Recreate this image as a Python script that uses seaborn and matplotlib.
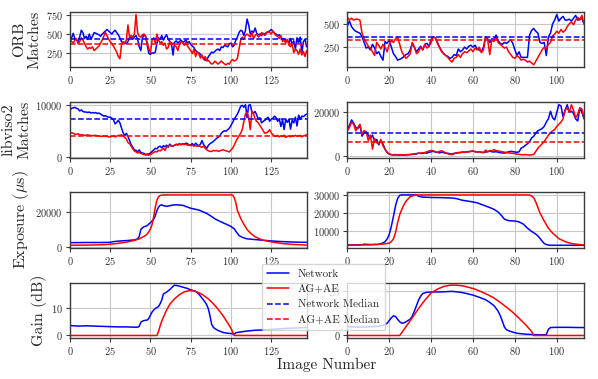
import numpy as np
import pandas as pd
import matplotlib
matplotlib.use("Agg")
import matplotlib.pyplot as plt
import seaborn as sns
from matplotlib.ticker import MaxNLocator
from matplotlib.lines import Line2D

# ---------------- data ----------------
series_names = ["Network", "AG+AE", "Network Median", "AG+AE Median"]
row_labels = ["ORB\nMatches", "libviso2\nMatches", r"Exposure ($\mu$s)", "Gain (dB)"]
x_label = "Image Number"
n_left = 148
n_right = 114

orb_left_net = [
    420, 450, 510, 440, 420, 400, 460, 550, 520, 440, 470, 430, 500, 430, 470,
    520, 510, 500, 490, 470, 500, 520, 540, 560, 540, 520, 500, 530, 550, 520,
    490, 450, 400, 380, 390, 370, 400, 450, 470, 430, 460, 480, 430, 330, 280,
    450, 490, 470, 350, 240, 230, 250, 245, 260, 380, 450, 430, 480, 420, 460,
    490, 430, 400, 380, 220, 390, 410, 380, 400, 420, 390, 400, 420, 380, 400,
    360, 340, 320, 280, 260, 250, 230, 200, 180, 150, 160, 200, 230, 260, 250,
    270, 290, 300, 280, 330, 320, 350, 340, 330, 370, 380, 330, 350, 420, 460,
    520, 550, 540, 480, 550, 700, 620, 500, 540, 520, 580, 510, 490, 500, 480,
    510, 500, 520, 530, 540, 560, 540, 510, 500, 480, 490, 460, 430, 440, 400,
    420, 380, 440, 360, 410, 300, 450, 380, 460, 250, 400, 430, 330]
orb_left_ag = [
    430, 400, 380, 420, 440, 370, 400, 450, 420, 380, 330, 300, 320, 310, 330,
    280, 300, 320, 340, 380, 420, 470, 520, 480, 430, 400, 370, 340, 300, 260,
    200, 170, 360, 400, 370, 420, 620, 450, 480, 460, 500, 760, 520, 470, 460,
    490, 500, 460, 380, 300, 250, 420, 450, 380, 500, 420, 380, 400, 350, 380,
    300, 320, 400, 360, 380, 350, 330, 280, 360, 400, 380, 350, 390, 340, 310,
    280, 240, 300, 200, 260, 240, 180, 220, 160, 200, 140, 150, 120, 100, 110,
    140, 120, 100, 120, 140, 120, 100, 90, 110, 100, 140, 160, 140, 150, 180,
    300, 420, 460, 430, 480, 500, 480, 460, 520, 440, 480, 500, 460, 480, 520,
    500, 480, 510, 530, 520, 500, 540, 510, 480, 470, 440, 480, 400, 420, 380,
    430, 350, 330, 370, 250, 300, 280, 230, 300, 220, 270, 200, 280]
orb_right_net = [
    480, 530, 470, 440, 420, 410, 400, 360, 300, 240, 250, 220, 280, 240, 180,
    200, 150, 110, 310, 290, 330, 250, 180, 150, 110, 120, 130, 150, 170, 180,
    220, 290, 250, 200, 230, 260, 220, 280, 290, 260, 330, 360, 350, 300, 250,
    210, 180, 160, 150, 130, 140, 170, 160, 230, 200, 220, 250, 230, 260, 270,
    250, 270, 230, 220, 200, 250, 360, 340, 300, 340, 330, 380, 320, 290, 280,
    300, 290, 310, 330, 290, 220, 160, 200, 140, 140, 140, 140, 380, 430, 450,
    420, 400, 300, 290, 300, 160, 360, 400, 500, 540, 600, 530, 560, 580, 540,
    540, 550, 530, 560, 590, 540, 550, 560, 500]
orb_right_ag = [
    570, 540, 560, 540, 550, 550, 540, 400, 340, 300, 260, 240, 200, 160, 300,
    270, 230, 280, 250, 200, 280, 320, 300, 340, 360, 280, 200, 160, 130, 150,
    180, 300, 250, 180, 200, 250, 220, 280, 240, 260, 300, 360, 350, 290, 250,
    200, 180, 160, 140, 110, 90, 130, 140, 170, 140, 180, 200, 190, 210, 230,
    200, 240, 220, 250, 190, 220, 360, 330, 170, 330, 310, 360, 300, 280, 260,
    240, 250, 200, 170, 140, 130, 160, 140, 110, 120, 110, 90, 100, 80, 60,
    100, 140, 180, 220, 250, 230, 280, 300, 370, 390, 420, 400, 440, 410, 430,
    470, 500, 520, 490, 540, 570, 540, 590, 500]
orb_medians_left = [433, 366]
orb_medians_right = [355, 323]

lib_left_net = [
    9000, 9300, 9400, 9500, 9300, 9200, 8800, 9000, 8700, 8600,
    8600, 8500, 8600, 8400, 8500, 8400, 8500, 8300, 8400, 8200,
    8000, 7800, 7900, 7700, 7600, 7600, 7400, 7100, 6300, 6600,
    7000, 6500, 5500, 4600, 4000, 4500, 3900, 3100, 2300, 1800,
    1300, 1200, 900, 1300, 800, 700, 600, 400, 500, 500,
    700, 1000, 1300, 1600, 1500, 1900, 2000, 1700, 2100, 1900,
    2200, 1800, 2400, 2100, 2000, 2200, 2400, 2300, 2500, 2300,
    2500, 2400, 2600, 2500, 2200, 2300, 2500, 2100, 2600, 2300,
    2000, 2400, 3100, 2300, 1900, 1600, 2200, 2500, 2700, 2900,
    3200, 3500, 3700, 4000, 4500, 4800, 5000, 4900, 5200, 5500,
    6000, 6600, 7200, 7700, 8200, 8900, 9700, 9900, 9500, 10000,
    7500, 9900, 10000, 8500, 8400, 8700, 8000, 7200, 7500, 6500,
    6800, 7000, 7300, 7600, 6800, 7200, 7400, 7800, 7500, 6800,
    7300, 5800, 7100, 5200, 7200, 6600, 7200, 5300, 7000, 6500,
    7600, 5900, 8000, 7200, 7800, 7700, 8000, 8200]
lib_left_ag = [
    4500, 4600, 4500, 4300, 4300, 4400, 4200, 4200, 4200, 4100,
    4100, 4200, 4100, 4100, 4000, 4100, 4100, 4000, 4000, 3900,
    3900, 4000, 3900, 3900, 3800, 3800, 3900, 4000, 3800, 3900,
    4100, 4100, 4200, 4000, 3700, 3400, 2700, 2500, 2000, 1500,
    1100, 900, 700, 800, 600, 500, 400, 300, 300, 300,
    400, 600, 800, 1000, 900, 1200, 1100, 1300, 1600, 1200,
    1800, 2100, 2200, 2000, 2100, 2200, 2300, 2200, 2400, 2300,
    2400, 2300, 2400, 2200, 2300, 2100, 2200, 2000, 2100, 2000,
    2200, 1900, 1800, 2000, 1600, 1300, 1100, 1000, 1000, 1200,
    1100, 1200, 1000, 1100, 1200, 1300, 1200, 1100, 1000, 900,
    1300, 1600, 2200, 2900, 3500, 4000, 4500, 5200, 6800, 8200,
    8500, 7500, 5200, 8800, 8300, 7200, 6800, 6500, 6000, 5500,
    5000, 4500, 4600, 4800, 5200, 4600, 4200, 4000, 3900, 4100,
    3800, 4000, 3900, 4100, 3700, 3900, 4000, 3800, 4000, 3900,
    4100, 3900, 4000, 4100, 3800, 4000, 4100, 4200]
lib_right_net = [
    12000, 14000, 16500, 15000, 13000, 12500, 14000, 9000, 10500, 11000,
    9500, 8000, 9500, 6500, 7500, 5000, 7000, 5500, 3000, 1500,
    700, 500, 400, 500, 400, 300, 400, 300, 400, 500,
    500, 600, 700, 800, 1200, 1000, 1100, 1300, 1200, 1600,
    1800, 2000, 1700, 1500, 1300, 1600, 1400, 1200, 1100, 900,
    800, 1100, 1200, 1300, 1500, 1700, 1600, 1800, 1900, 2000,
    2100, 1900, 1700, 1800, 1600, 1500, 1700, 1900, 2100, 1800,
    1700, 1900, 1600, 1400, 1300, 1200, 1500, 1800, 2000, 1900,
    1700, 1600, 1800, 3500, 4000, 4800, 5500, 6500, 8200, 9000,
    10500, 11500, 12000, 12500, 13500, 15500, 17000, 20500, 17500, 16500,
    20000, 23500, 23000, 18000, 21000, 23500, 20000, 20500, 19500, 17000,
    16000, 22000, 20000, 17000]
lib_right_ag = [
    11500, 13000, 15500, 14500, 11500, 13000, 14500, 10000, 11500, 11000,
    7000, 9500, 3000, 8000, 6000, 5500, 7500, 4500, 3000, 1500,
    800, 500, 300, 400, 300, 300, 400, 300, 500, 400,
    600, 700, 900, 1000, 1100, 1200, 1300, 1500, 1800, 2200,
    2400, 2300, 1900, 1600, 2000, 2300, 1800, 1200, 900, 600,
    500, 900, 1300, 1500, 1400, 1600, 1500, 1800, 1700, 2000,
    2200, 1800, 1700, 1900, 1500, 1400, 2600, 1700, 2400, 2200,
    2800, 2300, 2200, 2000, 1800, 1600, 1400, 1300, 1200, 1100,
    900, 700, 600, 500, 400, 500, 400, 300, 400, 600,
    2000, 3500, 4500, 5500, 6500, 8000, 9500, 10500, 11500, 12000,
    13500, 14500, 15500, 17000, 21000, 22000, 20000, 23500, 21000, 17500,
    19000, 22000, 21500, 17500]
lib_medians_left = [7340, 4060]
lib_medians_right = [10600, 6310]

exp_left_net_x = [0, 10, 20, 25, 27, 30, 35, 40, 42, 43, 44, 45, 46, 48, 49, 50, 51, 52, 53, 54,
                  55, 56, 57, 58, 60, 62, 64, 66, 70, 75, 80, 85, 88, 90, 93, 96, 98, 100, 101,
                  102, 103, 104, 105, 107, 110, 115, 120, 125, 130, 135, 140, 147]
exp_left_net_y = [2400, 2500, 2500, 2600, 3000, 3300, 3600, 4000, 4600, 6000, 10000, 11000, 11600,
                  12300, 13200, 14000, 15000, 16000, 18000, 21000, 23000, 24000, 24300, 23800,
                  23400, 23800, 24200, 24300, 24000, 22300, 21300, 19300, 17500, 16200, 14800,
                  13500, 12700, 11800, 11000, 10500, 9000, 7800, 6500, 5500, 4600, 4200, 3800,
                  3400, 3100, 2900, 2700, 2600]
exp_left_ag_x = [0, 10, 20, 25, 30, 35, 40, 43, 45, 47, 48, 49, 50, 51, 52, 53, 54, 55, 56, 58,
                 101, 102, 103, 104, 106, 108, 110, 112, 115, 120, 126, 132, 138, 147]
exp_left_ag_y = [900, 1000, 1200, 1500, 2000, 2700, 3700, 4600, 5600, 6600, 7500, 8800, 10400,
                 13000, 17500, 23000, 27000, 29000, 29700, 30000, 30000, 28500, 25500, 21000,
                 16500, 13000, 10000, 8000, 5800, 3800, 2700, 1900, 1400, 1000]
exp_right_net_x = [0, 7, 8, 9, 12, 15, 17, 18, 19, 20, 21, 22, 23, 24, 25, 26, 33, 34, 36, 40, 45,
                   50, 52, 55, 58, 60, 62, 65, 68, 70, 72, 74, 75, 77, 80, 82, 84, 86, 88, 90, 91,
                   92, 93, 94, 95, 96, 97, 100, 105, 113]
exp_right_net_y = [2200, 2200, 2600, 2500, 2400, 2500, 3300, 4000, 5500, 8000, 12500, 18000, 24000,
                   28000, 29800, 30000, 30000, 29300, 28800, 28600, 28500, 28300, 28000, 27000,
                   26500, 26100, 25600, 24300, 23000, 22000, 20500, 18000, 16500, 15700, 15500,
                   15000, 13800, 11500, 9700, 8200, 7200, 5800, 4300, 3000, 2400, 2100, 2000, 2000,
                   2000, 2000]
exp_right_ag_x = [0, 10, 15, 18, 20, 21, 22, 23, 24, 25, 26, 27, 28, 30, 32, 34, 87, 88, 89, 90,
                  91, 92, 94, 96, 98, 101, 104, 107, 110, 113]
exp_right_ag_y = [2000, 2200, 2500, 2800, 3200, 4000, 5500, 9000, 14500, 19000, 22000, 24500,
                  26500, 29000, 29800, 30000, 30000, 29400, 28500, 26000, 23000, 20000, 15500,
                  11500, 8800, 5700, 4000, 3000, 2500, 2200]

gain_left_net_x = [0, 5, 10, 15, 20, 25, 30, 35, 40, 42, 43, 44, 45, 46, 47, 48, 49, 50, 51, 52,
                   53, 54, 55, 56, 57, 58, 60, 62, 64, 65, 67, 70, 73, 75, 78, 80, 82, 84, 85, 86,
                   87, 88, 89, 90, 92, 95, 98, 100, 102, 103, 105, 110, 115, 120, 125, 130, 135,
                   140, 147]
gain_left_net_y = [3.6, 3.4, 3.5, 3.4, 3.3, 3.2, 3.1, 3.1, 3.0, 3.0, 3.3, 4.8, 5.2, 5.4, 5.5, 5.6,
                   6.2, 7.4, 8.5, 9.2, 9.8, 10.1, 10.5, 11.5, 12.8, 15.0, 15.7, 16.6, 17.8, 18.2,
                   18.0, 17.5, 17.0, 16.5, 16.0, 15.0, 13.5, 12.0, 11.0, 9.5, 7.0, 4.0, 3.0, 2.5,
                   1.8, 1.1, 0.8, 0.7, 0.5, 1.0, 1.2, 1.6, 1.9, 2.0, 2.2, 2.4, 2.6, 2.7, 2.9]
gain_left_ag_x = [0, 54, 55, 56, 57, 58, 60, 62, 65, 68, 71, 74, 77, 80, 83, 86, 89, 92, 95, 98,
                  100, 102, 147]
gain_left_ag_y = [0, 0, 1.5, 3.5, 5.2, 6.6, 9.2, 11.3, 13.3, 14.8, 15.8, 16.2, 16.1, 15.5, 14.5,
                  13.2, 11.5, 9.5, 7.2, 4.5, 2.6, 0, 0]
gain_right_net_x = [0, 5, 10, 15, 17, 19, 20, 21, 22, 23, 24, 25, 26, 27, 28, 29, 30, 31, 32, 33,
                    34, 35, 36, 38, 42, 46, 50, 54, 57, 60, 63, 66, 68, 70, 71, 72, 73, 74, 75, 76,
                    78, 81, 85, 89, 94, 95, 96, 97, 100, 105, 110, 113]
gain_right_net_y = [4.0, 3.8, 3.9, 4.2, 4.6, 5.5, 6.8, 8.0, 8.9, 8.6, 7.3, 6.2, 5.6, 5.7, 6.2, 6.8,
                    7.4, 8.8, 11.0, 13.5, 16.0, 17.8, 19.0, 19.6, 19.7, 19.8, 20.0, 19.6, 19.0,
                    18.3, 17.3, 16.2, 15.0, 13.5, 12.3, 11.0, 9.0, 6.5, 3.8, 2.6, 1.8, 1.0, 0.6,
                    0.4, 0.3, 0.4, 2.8, 3.6, 3.7, 3.7, 3.6, 3.6]
gain_right_ag_x = [0, 25, 28, 31, 34, 37, 40, 43, 46, 49, 52, 55, 58, 61, 64, 67, 70, 73, 76, 79,
                   82, 85, 88, 89, 113]
gain_right_ag_y = [0, 0, 4.0, 8.0, 12.2, 16.0, 19.3, 21.0, 22.2, 22.8, 22.8, 22.5, 21.8, 21.0,
                   19.8, 18.5, 17.0, 15.0, 12.8, 10.5, 7.8, 5.0, 1.8, 0, 0]

# ---------------- style ----------------
sns.set_theme(style="whitegrid")
plt.rcParams.update({
    "font.family": "serif",
    "font.serif": ["cmr10"],
    "mathtext.fontset": "cm",
    "axes.formatter.use_mathtext": True,
    "axes.unicode_minus": False,
    "axes.edgecolor": "#3a3a3a",
    "axes.linewidth": 1.0,
    "grid.color": "#c8c8c8",
    "grid.linewidth": 0.8,
    "xtick.bottom": True,
    "ytick.left": True,
    "xtick.major.size": 3,
    "ytick.major.size": 3,
    "xtick.major.width": 0.8,
    "ytick.major.width": 0.8,
    "xtick.color": "#3a3a3a",
    "ytick.color": "#3a3a3a",
    "xtick.labelcolor": "#333333",
    "ytick.labelcolor": "#333333",
    "xtick.major.pad": 2,
    "ytick.major.pad": 2,
})

BLUE = "#0000ff"
RED = "#ff0000"
LW = 1.1

fig, axes = plt.subplots(4, 2, figsize=(5.98, 3.79), dpi=100)
fig.subplots_adjust(left=70 / 598, right=584 / 598, top=1 - 12 / 379,
                    bottom=1 - 338 / 379, wspace=0.172, hspace=0.63)

frames_left = np.arange(n_left)
frames_right = np.arange(n_right)

panels = [
    [(frames_left, orb_left_net, frames_left, orb_left_ag, orb_medians_left),
     (frames_right, orb_right_net, frames_right, orb_right_ag, orb_medians_right)],
    [(frames_left, lib_left_net, frames_left, lib_left_ag, lib_medians_left),
     (frames_right, lib_right_net, frames_right, lib_right_ag, lib_medians_right)],
    [(exp_left_net_x, exp_left_net_y, exp_left_ag_x, exp_left_ag_y, None),
     (exp_right_net_x, exp_right_net_y, exp_right_ag_x, exp_right_ag_y, None)],
    [(gain_left_net_x, gain_left_net_y, gain_left_ag_x, gain_left_ag_y, None),
     (gain_right_net_x, gain_right_net_y, gain_right_ag_x, gain_right_ag_y, None)],
]

for r in range(4):
    for c in range(2):
        ax = axes[r, c]
        xn, yn, xa, ya, med = panels[r][c]
        sns.lineplot(x=list(xn), y=list(yn), color=BLUE, lw=LW, ax=ax, estimator=None)
        sns.lineplot(x=list(xa), y=list(ya), color=RED, lw=LW, ax=ax, estimator=None)
        if med is not None:
            ax.axhline(med[0], color=BLUE, ls="--", lw=LW)
            ax.axhline(med[1], color=RED, ls="--", lw=LW)
        n = n_left if c == 0 else n_right
        ax.set_xlim(0, n - 1)
        ax.yaxis.set_major_locator(MaxNLocator(nbins=2, steps=[1, 2, 2.5, 5, 10]))
        ax.xaxis.set_major_locator(MaxNLocator(nbins=7, steps=[1, 2, 2.5, 5, 10]))
        ax.tick_params(labelsize=7.5)
        ax.set_xlabel("")
        ax.set_ylabel(row_labels[r] if c == 0 else "", fontsize=11.5, labelpad=3)
        for s in ax.spines.values():
            s.set_visible(True)
            s.set_color("#3a3a3a")

handles = [Line2D([], [], color=BLUE, lw=LW), Line2D([], [], color=RED, lw=LW),
           Line2D([], [], color=BLUE, lw=LW, ls="--"), Line2D([], [], color=RED, lw=LW, ls="--")]
fig.legend(handles, series_names, loc="upper left",
           bbox_to_anchor=(262 / 598, 1 - 264 / 379), borderaxespad=0, fontsize=8,
           framealpha=0.8, edgecolor="#cccccc", borderpad=0.45, labelspacing=0.5,
           handlelength=2.0)

fig.text((70 + 584) / 2 / 598, 1 - 365 / 379, x_label, ha="center", va="center", fontsize=11)

fig.savefig("out.png", dpi=100)
